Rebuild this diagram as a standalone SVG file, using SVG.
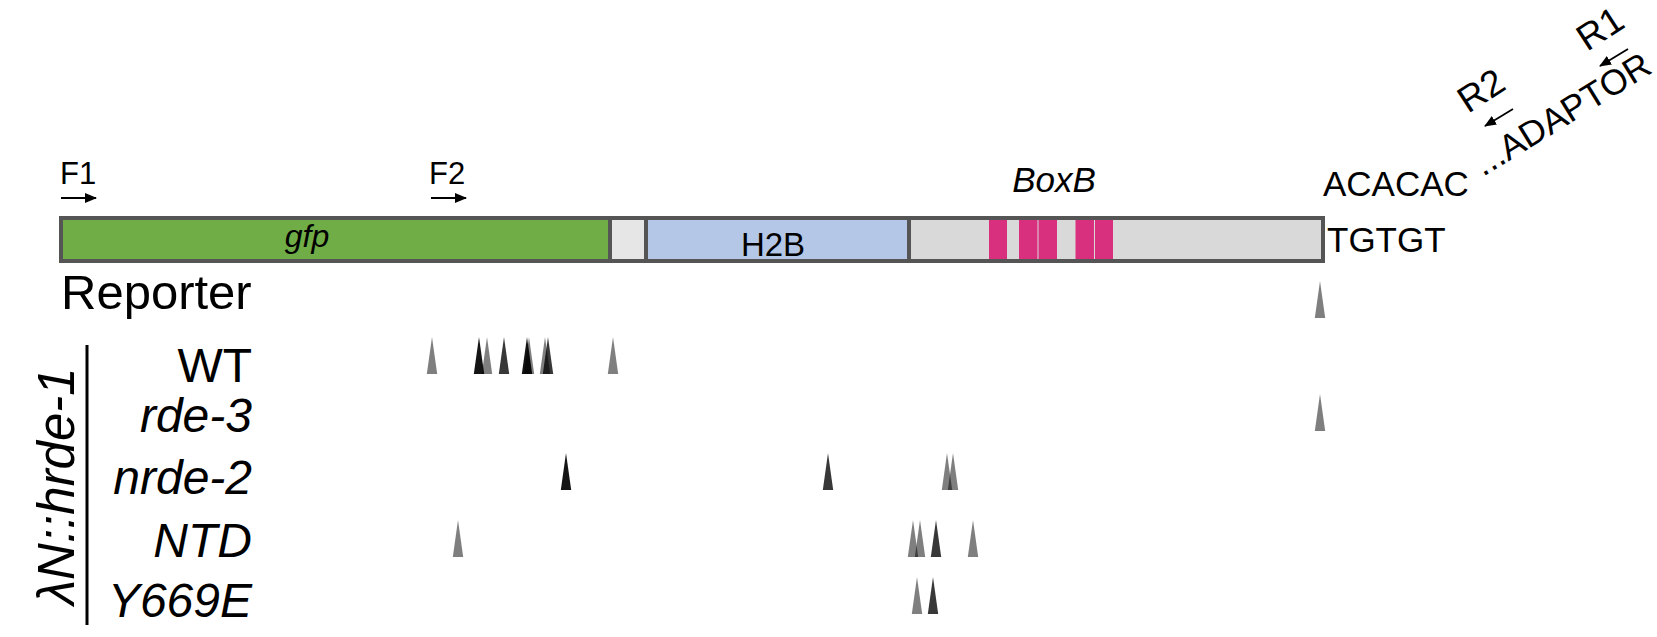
<svg xmlns="http://www.w3.org/2000/svg" width="1657" height="637" viewBox="0 0 1657 637">
<style>
text{font-family:"Liberation Sans",Arial,sans-serif;fill:#000}
.it{font-style:italic}
.lbl{font-size:48px;text-anchor:end}
.seg{stroke:#555;stroke-width:4}
.arr{stroke:#000;stroke-width:1.8;fill:none}
.g{fill:#000;fill-opacity:0.5}
.d{fill:#000;fill-opacity:0.78}
.k{fill:#000;fill-opacity:0.92}
.mg{fill:#d8307f}
</style>
<defs>
<marker id="ah" markerUnits="userSpaceOnUse" markerWidth="12" markerHeight="10" viewBox="0 0 12 10" refX="11" refY="5" orient="auto">
<path d="M0,0 L12,5 L0,10 Z" fill="#000"/>
</marker>
<path id="tri" d="M0,0 L5.2,37 L-5.2,37 Z"/>
</defs>
<rect width="1657" height="637" fill="#fff"/>

<g id="reporter-bar">
<rect x="61" y="218" width="1262" height="43" fill="#d9d9d9" class="seg"/>
<rect x="61" y="218" width="549" height="43" fill="#70ad47" class="seg"/>
<rect x="610" y="218" width="36" height="43" fill="#e7e6e6" class="seg"/>
<rect x="646" y="218" width="263" height="43" fill="#b4c7e7" class="seg"/>
<rect x="909" y="218" width="414" height="43" fill="none" class="seg"/>
<g id="boxb-sites">
<rect class="mg" x="989" y="220" width="18" height="39"/>
<rect class="mg" x="1019" y="220" width="18.5" height="39"/>
<rect class="mg" x="1038.5" y="220" width="18.5" height="39"/>
<rect class="mg" x="1075.5" y="220" width="18.5" height="39"/>
<rect class="mg" x="1095" y="220" width="18" height="39"/>
</g>
<text class="it" x="307" y="247" font-size="32" text-anchor="middle">gfp</text>
<text x="773" y="256" font-size="33" text-anchor="middle">H2B</text>
<text class="it" x="1054" y="192" font-size="35" text-anchor="middle">BoxB</text>
</g>

<g id="primers">
<text x="60" y="184" font-size="31">F1</text>
<text x="429" y="184" font-size="31">F2</text>
<text x="0" y="0" font-size="37" transform="translate(1468,114) rotate(-33)">R2</text>
<text x="0" y="0" font-size="37" transform="translate(1587,52) rotate(-33)">R1</text>
</g>

<g id="ends">
<text x="1323" y="196" font-size="35">ACACAC</text>
<text x="1327" y="252" font-size="35">TGTGT</text>
<text x="0" y="0" font-size="35.5" transform="translate(1483,177) rotate(-31.6)">...ADAPTOR</text>
</g>

<g id="connectors">
<line class="arr" x1="61" y1="198" x2="96" y2="198" marker-end="url(#ah)"/>
<line class="arr" x1="431" y1="198" x2="466" y2="198" marker-end="url(#ah)"/>
<line class="arr" x1="1513" y1="109" x2="1485" y2="126" marker-end="url(#ah)"/>
<line class="arr" x1="1628" y1="49" x2="1600" y2="66" marker-end="url(#ah)"/>
</g>

<g id="labels">
<text x="61" y="309" font-size="49">Reporter</text>
<text class="lbl" x="252" y="382">WT</text>
<text class="lbl it" x="252" y="432">rde-3</text>
<text class="lbl it" x="252" y="494">nrde-2</text>
<text class="lbl it" x="252" y="557">NTD</text>
<text class="lbl it" x="252" y="617">Y669E</text>
<text class="it" x="0" y="0" font-size="51" transform="translate(74,605) rotate(-90)">λN::hrde-1</text>
<line x1="87" y1="345" x2="87" y2="625" stroke="#000" stroke-width="3"/>
</g>

<g id="peaks">
<use href="#tri" class="g" x="1320" y="281"/>
<use href="#tri" class="g" x="432" y="337"/>
<use href="#tri" class="k" x="479" y="337"/>
<use href="#tri" class="g" x="487" y="337"/>
<use href="#tri" class="d" x="504" y="337"/>
<use href="#tri" class="k" x="527" y="337"/>
<use href="#tri" class="g" x="529" y="337"/>
<use href="#tri" class="g" x="545" y="337"/>
<use href="#tri" class="d" x="548" y="337"/>
<use href="#tri" class="g" x="613" y="337"/>
<use href="#tri" class="g" x="1320" y="394"/>
<use href="#tri" class="k" x="566" y="453"/>
<use href="#tri" class="d" x="828" y="453"/>
<use href="#tri" class="g" x="947" y="453"/>
<use href="#tri" class="g" x="953" y="453"/>
<use href="#tri" class="g" x="458" y="520"/>
<use href="#tri" class="g" x="913" y="520"/>
<use href="#tri" class="g" x="920" y="520"/>
<use href="#tri" class="d" x="936" y="520"/>
<use href="#tri" class="g" x="973" y="520"/>
<use href="#tri" class="g" x="917" y="577"/>
<use href="#tri" class="d" x="933" y="577"/>
</g>
</svg>
